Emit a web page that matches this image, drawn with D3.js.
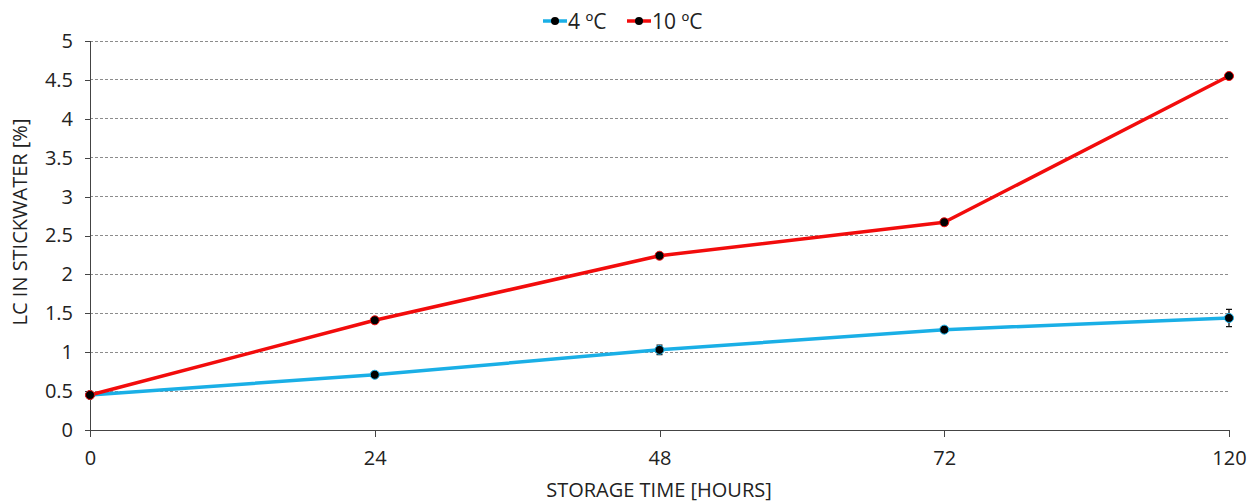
<!DOCTYPE html>
<html><head><meta charset="utf-8">
<script src="https://cdn.jsdelivr.net/npm/d3@7/dist/d3.min.js"></script>
<style>body{margin:0;background:#fff}svg{display:block}text{font-family:"Open Sans","Liberation Sans",sans-serif;fill:#222}</style>
</head><body><svg id="c" width="1251" height="503"></svg>
<script>
const categories = ["0","24","48","72","120"];
const series4 = [0.45, 0.71, 1.03, 1.29, 1.44];
const err4 = [0.02, 0.02, 0.06, 0.02, 0.11];
const series10 = [0.45, 1.41, 2.24, 2.67, 4.55];
const err10 = [0.02, 0.02, 0.02, 0.04, 0.02];
const yTicks = [0,0.5,1,1.5,2,2.5,3,3.5,4,4.5,5];
const seriesList = [
  {name:"4 ºC", values:series4, err:err4, color:"#1AAFE6"},
  {name:"10 ºC", values:series10, err:err10, color:"#F20C0C"}
];
const svg = d3.select("#c");
const L=90, R=1229, T=41, B=430;
const x = d3.scalePoint().domain(categories).range([L,R]);
const y = d3.scaleLinear().domain([0,5]).range([B,T]);

// gridlines
svg.append("g").selectAll("line").data(yTicks.slice(1)).join("line")
  .attr("x1",L).attr("x2",R).attr("y1",d=>y(d)).attr("y2",d=>y(d))
  .attr("stroke","#8c8c8c").attr("stroke-width",1).attr("stroke-dasharray","3,2")
  .attr("shape-rendering","crispEdges");

// axes
const yAxis = svg.append("g").attr("transform",`translate(${L},0)`)
  .call(d3.axisLeft(y).tickValues(yTicks).tickFormat(d3.format("")).tickSize(5).tickPadding(12));
const xAxis = svg.append("g").attr("transform",`translate(0,${B})`)
  .call(d3.axisBottom(x).tickSize(7).tickSizeOuter(0).tickPadding(14));
[yAxis,xAxis].forEach(a=>{
  a.selectAll("path,line").attr("stroke","#444").attr("shape-rendering","crispEdges");
  a.selectAll("text").style("font-size","20px").attr("fill","#222");
});
yAxis.select(".domain").attr("d",`M0,${B+7}V${T}`);
xAxis.select(".domain").attr("d",`M${L-5},0H${R}`);

// lines
const line = d3.line().x((d,i)=>x(categories[i])).y(d=>y(d));
seriesList.forEach(s=>{
  svg.append("path").datum(s.values).attr("d",line).attr("fill","none")
    .attr("stroke",s.color).attr("stroke-width",3.5).attr("stroke-linejoin","round");
});
seriesList.forEach(s=>{
  const g = svg.append("g");
  s.values.forEach((v,i)=>{
    const cx = x(categories[i]);
    const e = s.err[i];
    g.append("path").attr("d",`M${cx},${y(v+e)}V${y(v-e)}M${cx-3},${y(v+e)}H${cx+3}M${cx-3},${y(v-e)}H${cx+3}`)
      .attr("stroke","#111").attr("stroke-width",1.3).attr("fill","none");
    g.append("circle").attr("cx",cx).attr("cy",y(v)).attr("r",4.5).attr("fill","#000")
      .attr("stroke",s.color).attr("stroke-width",1);
  });
});

// axis titles
svg.append("text").attr("x",659).attr("y",497).attr("text-anchor","middle")
  .style("font-size","20px").text("STORAGE TIME [HOURS]");
svg.append("text").attr("transform",`translate(27,${222}) rotate(-90)`).attr("text-anchor","middle")
  .style("font-size","20px").text("LC IN STICKWATER [%]");

// legend
const leg = svg.append("g");
const legPos = [543, 627];
seriesList.forEach((s,i)=>{
  const lx = legPos[i];
  leg.append("line").attr("x1",lx).attr("x2",lx+24).attr("y1",21).attr("y2",21)
    .attr("stroke",s.color).attr("stroke-width",3.5);
  leg.append("circle").attr("cx",lx+12).attr("cy",21).attr("r",4).attr("fill","#000");
  leg.append("text").attr("x",lx+25).attr("y",29).style("font-size","21px").text(s.name);
});
</script></body></html>
